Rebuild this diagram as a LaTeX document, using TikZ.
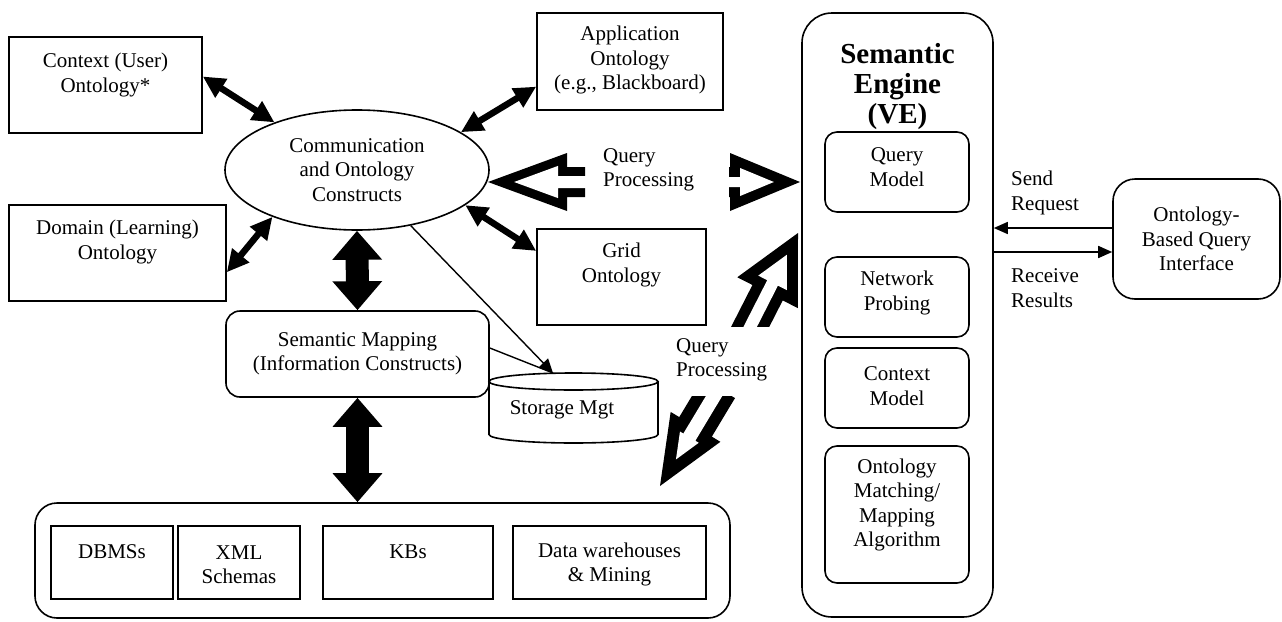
\documentclass[tikz,border=0pt]{standalone}
\usepackage{fontspec}
\setmainfont{Liberation Serif}
\usetikzlibrary{arrows.meta,shapes.geometric,calc}

\tikzset{
  % hollow block arrow: tip at the origin, pointing along +x
  % #1 head length, #2 head half width, #3 shaft half width, #4 shaft length, #5 wall thickness
  pics/hollowarrow/.style n args={5}{code={
    \pgfmathsetmacro\hoa{#5/sin(atan(#2/#1))}
    \pgfmathsetmacro\hob{(#1-#5-\hoa)*#2/#1}
    \fill[black] (0,0) -- (-#1,#2) -- (-#1,#3) -- (-#1-#4,#3) -- (-#1-#4,-#3)
                 -- (-#1,-#3) -- (-#1,-#2) -- cycle;
    \fill[white] (-\hoa,0) -- (-#1+#5,\hob) -- (-#1+#5,#3-#5) -- (-#1-#4-1,#3-#5)
                 -- (-#1-#4-1,-#3+#5) -- (-#1+#5,-#3+#5) -- (-#1+#5,-\hob) -- cycle;
  }},
  sbox/.style={draw, line width=1.6pt, fill=white, inner sep=0pt},
  rbox/.style={sbox, rounded corners=#1},
  txt/.style={align=center, inner sep=0pt},
  dbl/.style={line width=6.5pt, arrows={Triangle[length=22pt,width=21pt]-Triangle[length=22pt,width=21pt]}},
  big/.style={line width=23pt, arrows={Triangle[length=29pt,width=48pt]-Triangle[length=29pt,width=48pt]}},
  thinline/.style={line width=1.4pt},
  sarrow/.style={line width=1.6pt, arrows={-Triangle[length=14pt,width=12pt]}}
}

\begin{document}
\begin{tikzpicture}[x=1pt, y=-1pt, font=\fontsize{21}{24.5}\selectfont]
\useasboundingbox (0,0) rectangle (1282,621);

% query processing arrows that run into the engine (partly covered later)
\pic[shift={(660,486)}, rotate=239] {hollowarrow={69}{29}{19}{45}{12}};
\pic[shift={(798,233)}, rotate=63] {hollowarrow={67}{34}{17}{60}{11}};
\fill[white] (668,326.5) rectangle (800.5,396);

% ontology boxes around the central ellipse
\node[sbox, minimum width=193pt, minimum height=96pt] (ctx) at (105.5,85) {};
\node[txt] (ctxt) at (105.5,75) {Context (User)\\Ontology*};
\node[sbox, minimum width=217pt, minimum height=96pt] (dom) at (117.5,253) {};
\node[txt] (domt) at (117.5,242) {Domain (Learning)\\Ontology};
\node[sbox, minimum width=186pt, minimum height=97pt] (app) at (630,61.5) {};
\node[txt] (appt) at (630,60) {Application\\Ontology\\(e.g., Blackboard)};
\node[sbox, minimum width=169pt, minimum height=96pt] (grid) at (621.5,277) {};
\node[txt] (gridt) at (621.5,265) {Grid\\Ontology};

\node[ellipse, draw, line width=1.6pt, fill=white, minimum width=264pt, minimum height=120pt,
      txt] (ell) at (357,170) {Communication\\and Ontology\\Constructs};

\node[rbox=14pt, minimum width=263pt, minimum height=86pt, align=center] (map) at (357.5,354)
  {Semantic Mapping\\(Information Constructs)};

% storage cylinder
\fill[white] (489,381.5) -- (489,434.5) arc[start angle=180, end angle=360, x radius=84.5pt, y radius=8.5pt]
  -- (658,381.5) -- cycle;
\draw[line width=1.6pt] (489,381.5) -- (489,434.5)
  arc[start angle=180, end angle=360, x radius=84.5pt, y radius=8.5pt] -- (658,381.5);
\draw[line width=1.6pt, fill=white] (573.5,381.5) ellipse[x radius=84.5pt, y radius=8.5pt];
\coordinate (cyltop) at (553,373);
\node[txt] (cylt) at (562,410) {Storage Mgt};

% data sources
\node[rbox=22pt, minimum width=695pt, minimum height=115pt] (bot) at (382.5,560.5) {};
\node[sbox, minimum width=122pt, minimum height=73pt] (dbms) at (112,562.5) {};
\node[txt] at (112,552) {DBMSs};
\node[sbox, minimum width=122pt, minimum height=73pt] (xml) at (239,562.5) {};
\node[txt] at (239,564.5) {XML\\Schemas};
\node[sbox, minimum width=170pt, minimum height=73pt] (kbs) at (408,562.5) {};
\node[txt] at (408,552) {KBs};
\node[sbox, minimum width=193pt, minimum height=73pt] (dw) at (609.5,562.5) {};
\node[txt] at (609.5,564.5) {Data warehouses\\\& Mining};

% semantic engine
\node[rbox=30pt, minimum width=191pt, minimum height=604pt] (eng) at (897.5,315) {};
\node[txt, font=\fontsize{29}{30}\selectfont\bfseries] (engt) at (897.5,87) {Semantic\\Engine\\(VE)};
\node[rbox=12pt, minimum width=144pt, minimum height=80pt] (qm) at (897,172) {};
\node[txt] at (897,167) {Query\\Model};
\node[rbox=12pt, minimum width=144pt, minimum height=80pt] (np) at (897,297) {};
\node[txt] at (897,293) {Network\\Probing};
\node[rbox=12pt, minimum width=144pt, minimum height=80pt] (cm) at (897,388) {};
\node[txt] at (897,386) {Context\\Model};
\node[rbox=12pt, minimum width=144pt, minimum height=137pt] (om) at (897,514.5) {};
\node[txt] at (897,505) {Ontology\\Matching/\\Mapping\\Algorithm};

% query interface
\node[rbox=22pt, minimum width=167pt, minimum height=120pt, align=center] (intf) at (1196.5,239)
  {Ontology-\\Based Query\\Interface};

% labels
\node[txt, align=left, anchor=west] (qp1) at (603,170) {Query\\Processing};
\node[txt, align=left, anchor=west] (qp2) at (676,360) {Query\\Processing};
\node[txt, align=left, anchor=west] (sr) at (1011,193) {Send\\Request};
\node[txt, align=left, anchor=west] (rr) at (1011,288) {Receive\\Results};

% connectors
\draw[dbl] (ctx.5) -- (ell.150);
\draw[dbl] (dom.-10) -- (ell.209);
\draw[dbl] (app.195) -- (ell.20);
\draw[dbl] (grid.163) -- (ell.-18);
\draw[big] (ell.south) -- (map.north);
\draw[big] (map.south) -- (map.south |- bot.north);
\draw[thinline, arrows={-Triangle[length=14pt,width=13pt]}] (ell.-46) -- (cyltop);
\draw[thinline] ([yshift=6pt]map.east) -- (cyltop);
\draw[sarrow] ([yshift=11pt]intf.west) -- ([yshift=11pt]intf.west -| eng.east);
\draw[sarrow] ([yshift=-13pt]intf.west -| eng.east) -- ([yshift=-13pt]intf.west);

% hollow arrows between the constructs and the engine
\pic[shift={(488,182)}, rotate=180] {hollowarrow={79}{29}{15}{18}{9}};
\pic[shift={(800,182)}] {hollowarrow={70}{29}{15}{1}{10}};
\end{tikzpicture}
\end{document}
